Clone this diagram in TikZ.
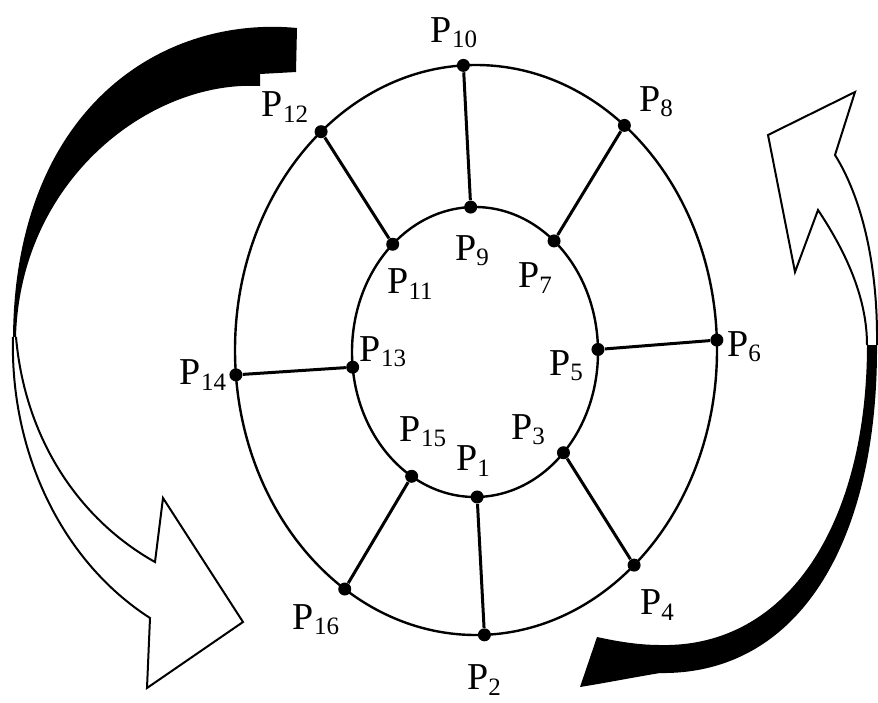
\documentclass[tikz,border=0pt]{standalone}
\usepackage{fontspec}
\setmainfont{Liberation Serif}
\usepackage{tikz}
\usetikzlibrary{calc}
\newcommand{\plab}[1]{P\raisebox{-0.3ex}{\fontsize{12.5}{13}\selectfont #1}}

\begin{document}
\begin{tikzpicture}[
    x=0.5pt, y=-0.5pt,
    ring/.style={line width=1.2pt},
    spoke/.style={line width=1.5pt},
    dot/.style={circle, fill=black, inner sep=0pt, minimum size=6.5pt},
    plabel/.style={font=\fontsize{19}{20}\selectfont, inner sep=0pt},
    outline/.style={line width=1pt, line join=miter}
]
    \useasboundingbox (0,0) rectangle (878,702);

    % left turning arrow
    \fill (297,28) -- (296,72) -- (260,74) -- (260,86)
        .. controls (150,80) and (20,180) .. (16,337)
        -- (13,337) .. controls (15,110) and (160,15) .. (297,28) -- cycle;
    \draw[outline] (13,337) .. controls (10,450) and (60,560) .. (150,618)
        -- (147,688) -- (243,622) -- (163,498) -- (155,562)
        .. controls (80,520) and (25,440) .. (16,337);

    % right turning arrow
    \fill (580,687) -- (597,637) .. controls (620,642) and (640,645) .. (660,645)
        .. controls (790,648) and (867,520) .. (867,345)
        -- (877,345) .. controls (878,540) and (800,675) .. (660,673)
        .. controls (630,678) and (605,683) .. (580,687) -- cycle;
    \draw[outline] (877,345) .. controls (878,260) and (860,195) .. (835,155)
        -- (855,92) -- (768,135) -- (795,272) -- (818,210)
        .. controls (848,255) and (867,300) .. (867,345);

    % the two rings
    \coordinate (oc) at (476,350);
    \coordinate (ic) at (475,352);
    \draw[ring] (oc) ellipse [x radius=241, y radius=285];
    \draw[ring] (ic) ellipse [x radius=123, y radius=145];

    % points on the inner ring
    \node[dot] (p1) at ($(ic)+(89:123 and 145)$) {};
    \node[dot] (p3) at ($(ic)+(44:123 and 145)$) {};
    \node[dot] (p5) at ($(ic)+(-1:123 and 145)$) {};
    \node[dot] (p7) at ($(ic)+(-50:123 and 145)$) {};
    \node[dot] (p9) at ($(ic)+(-92:123 and 145)$) {};
    \node[dot] (p11) at ($(ic)+(-132:123 and 145)$) {};
    \node[dot] (p13) at ($(ic)+(174:123 and 145)$) {};
    \node[dot] (p15) at ($(ic)+(121:123 and 145)$) {};

    % points on the outer ring
    \node[dot] (p2) at ($(oc)+(88:241 and 285)$) {};
    \node[dot] (p4) at ($(oc)+(49:241 and 285)$) {};
    \node[dot] (p6) at ($(oc)+(-2:241 and 285)$) {};
    \node[dot] (p8) at ($(oc)+(-52:241 and 285)$) {};
    \node[dot] (p10) at ($(oc)+(-93:241 and 285)$) {};
    \node[dot] (p12) at ($(oc)+(-130:241 and 285)$) {};
    \node[dot] (p14) at ($(oc)+(175:241 and 285)$) {};
    \node[dot] (p16) at ($(oc)+(123:241 and 285)$) {};

    % spokes
    \foreach \a/\b in {1/2, 3/4, 5/6, 7/8, 9/10, 11/12, 13/14, 15/16}
        \draw[spoke] (p\a) -- (p\b);

    % labels
    \node[plabel] (l1) at (473,461) {\plab{1}};
    \node[plabel] (l3) at (528,430) {\plab{3}};
    \node[plabel] (l5) at (566,366) {\plab{5}};
    \node[plabel] (l7) at (535,278) {\plab{7}};
    \node[plabel] (l9) at (472,251) {\plab{9}};
    \node[plabel] (l11) at (410,284) {\plab{11}};
    \node[plabel] (l13) at (383,352) {\plab{13}};
    \node[plabel] (l15) at (423,432) {\plab{15}};
    \node[plabel] (l2) at (484,680) {\plab{2}};
    \node[plabel] (l4) at (657,605) {\plab{4}};
    \node[plabel] (l6) at (744,347) {\plab{6}};
    \node[plabel] (l8) at (656,102) {\plab{8}};
    \node[plabel] (l10) at (454,33) {\plab{10}};
    \node[plabel] (l12) at (285,107) {\plab{12}};
    \node[plabel] (l14) at (203,375) {\plab{14}};
    \node[plabel] (l16) at (316,620) {\plab{16}};
\end{tikzpicture}
\end{document}
